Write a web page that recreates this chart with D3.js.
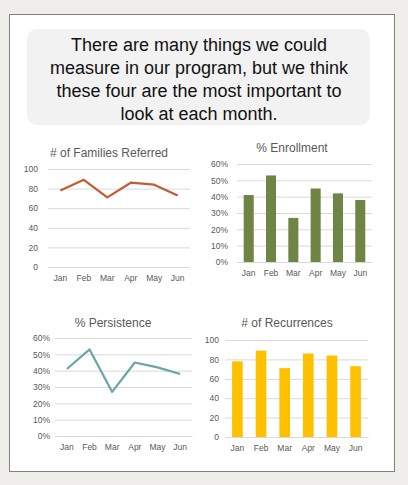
<!DOCTYPE html>
<html><head><meta charset="utf-8">
<script src="https://cdn.jsdelivr.net/npm/d3@7"></script>
<style>body{margin:0;background:#efeeeb;}svg{display:block;}</style>
</head><body>
<svg id="c" width="408" height="485"></svg>
<script>
const months = ["Jan","Feb","Mar","Apr","May","Jun"];
const familiesReferred = [78, 89, 71, 86, 84, 73];
const enrollment = [0.41, 0.53, 0.27, 0.45, 0.42, 0.38];
const persistence = [0.41, 0.53, 0.27, 0.45, 0.42, 0.38];
const recurrences = [78, 89, 71, 86, 84, 73];
const countTicks = [0, 20, 40, 60, 80, 100];
const pctTicks = [0, 0.1, 0.2, 0.3, 0.4, 0.5, 0.6];
const introLines = ["There are many things we could","measure in our program, but we think","these four are the most important to","look at each month."];

const svg = d3.select("#c");
svg.append("rect").attr("x",9.5).attr("y",14.5).attr("width",385).attr("height",457)
  .attr("fill","#fff").attr("stroke","#808080");
svg.append("rect").attr("x",27).attr("y",29).attr("width",343).attr("height",96).attr("rx",10)
  .attr("fill","#f2f2f2");
svg.append("text").attr("text-anchor","middle").attr("font-family","Liberation Sans Narrow, Arial Narrow, sans-serif")
  .attr("font-size",18).attr("fill","#111")
  .selectAll("tspan").data(introLines).join("tspan")
  .attr("x",199).attr("y",(d,i)=>51+i*23).text(d=>d);

function chart(o){
  const g = svg.append("g").attr("font-family","Liberation Sans, Arial, sans-serif");
  const y = d3.scaleLinear().domain([0,o.max]).range([o.y0,o.y1]);
  const x = d3.scaleBand().domain(months).range([o.x0,o.x1]).paddingInner(0.55).paddingOuter(0.3);
  g.append("text").attr("x",o.tx).attr("y",o.ty).attr("text-anchor","middle")
    .attr("font-size",12).attr("fill","#595959").text(o.title);
  const ax = d3.axisLeft(y).tickValues(o.ticks).tickSize(-(o.x1-o.x0)).tickPadding(o.pad)
    .tickFormat(o.fmt);
  const ag = g.append("g").attr("transform",`translate(${o.x0},0)`).call(ax);
  ag.select(".domain").remove();
  ag.selectAll("line").attr("stroke","#d9d9d9");
  ag.selectAll("text").attr("fill","#595959").attr("font-size",8.5).attr("font-family","Liberation Sans, Arial, sans-serif");
  const bx = d3.axisBottom(x).tickSize(0).tickPadding(8);
  const bg = g.append("g").attr("transform",`translate(0,${o.y0})`).call(bx);
  bg.select(".domain").attr("stroke","#d9d9d9");
  bg.selectAll("text").attr("fill","#595959").attr("font-size",8.5).attr("font-family","Liberation Sans, Arial, sans-serif");
  if(o.type==="bar"){
    g.selectAll("rect.b").data(o.data).join("rect").attr("class","b")
      .attr("x",(d,i)=>x(months[i])).attr("width",x.bandwidth())
      .attr("y",d=>y(d)).attr("height",d=>o.y0-y(d)).attr("fill",o.color);
  } else {
    const line = d3.line().x((d,i)=>x(months[i])+x.bandwidth()/2).y(d=>y(d));
    g.append("path").datum(o.data).attr("d",line).attr("fill","none")
      .attr("stroke",o.color).attr("stroke-width",2.2).attr("stroke-linejoin","round");
  }
}
const pf = d3.format(".0%");
chart({title:"# of Families Referred",tx:109,ty:157,x0:48,x1:190,y0:267,y1:169,max:100,ticks:countTicks,fmt:d3.format("d"),pad:10,type:"line",data:familiesReferred,color:"#c65a30"});
chart({title:"% Enrollment",tx:292,ty:152,x0:237,x1:372,y0:262,y1:164,max:0.6,ticks:pctTicks,fmt:pf,pad:9,type:"bar",data:enrollment,color:"#6e8546"});
chart({title:"% Persistence",tx:113,ty:327,x0:55,x1:192,y0:436,y1:338,max:0.6,ticks:pctTicks,fmt:pf,pad:5,type:"line",data:persistence,color:"#6aa5aa"});
chart({title:"# of Recurrences",tx:287,ty:327,x0:225,x1:368,y0:437,y1:340,max:100,ticks:countTicks,fmt:d3.format("d"),pad:6,type:"bar",data:recurrences,color:"#ffc000"});
</script>
</body></html>
